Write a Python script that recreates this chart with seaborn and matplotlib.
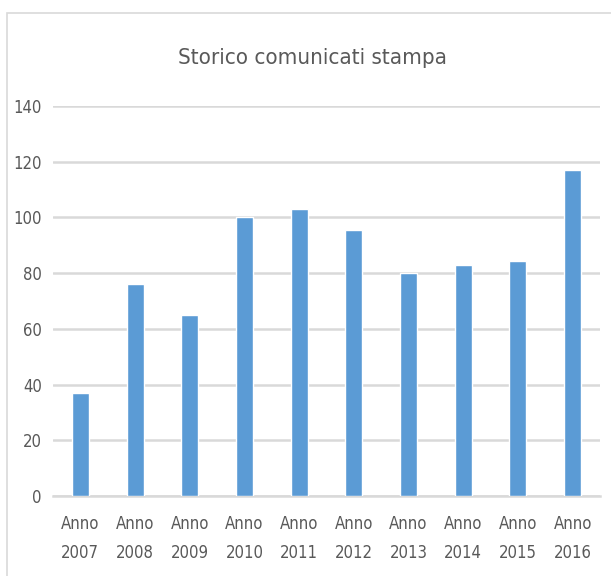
import matplotlib.pyplot as plt
import matplotlib.patches as patches
import seaborn as sns
import pandas as pd

# data
anni = ['2007', '2008', '2009', '2010', '2011', '2012', '2013', '2014', '2015', '2016']
comunicati = [37, 76, 65, 100, 103, 95.5, 80, 83, 84.5, 117]
etichette = ['Anno\n' + a for a in anni]
y_ticks = [0, 20, 40, 60, 80, 100, 120, 140]

sns.set_style("white")
plt.rcParams['font.family'] = ['DejaVu Sans']
plt.rcParams['font.stretch'] = 'condensed'

df = pd.DataFrame({'anno': etichette, 'comunicati': comunicati})

fig = plt.figure(figsize=(6.11, 5.76), dpi=100)
ax = fig.add_axes([0.0867, 0.1389, 0.8953, 0.6771])

# outer chart border like the Excel chart area
fig.patches.append(patches.Rectangle((7 / 611, -0.05), 1.1, 1 - 13 / 576 + 0.05,
                                     transform=fig.transFigure, fill=False,
                                     edgecolor='#D9D9D9', linewidth=1.2))

sns.barplot(data=df, x='anno', y='comunicati', color='#5B9BD5', saturation=1,
            width=0.31, ax=ax, zorder=3)

ax.set_ylim(0, 140)
ax.set_xlim(-0.5, 9.5)
ax.set_yticks(y_ticks)
ax.yaxis.grid(True, color='#D9D9D9', linewidth=1.8, zorder=0)
ax.set_axisbelow(True)
for s in ['left', 'right', 'top']:
    ax.spines[s].set_visible(False)
ax.spines['bottom'].set_color('#D9D9D9')
ax.spines['bottom'].set_linewidth(1.8)
ax.tick_params(axis='both', length=0, labelsize=12, colors='#595959')
ax.tick_params(axis='y', pad=8)
ax.tick_params(axis='x', pad=14)
for lbl in ax.get_xticklabels():
    lbl.set_linespacing(1.75)
ax.set_xlabel('')
ax.set_ylabel('')

fig.text(312 / 611, 1 - 58 / 576, 'Storico comunicati stampa', ha='center', va='center',
         fontsize=16, color='#595959')

plt.savefig('out.png', dpi=100)
